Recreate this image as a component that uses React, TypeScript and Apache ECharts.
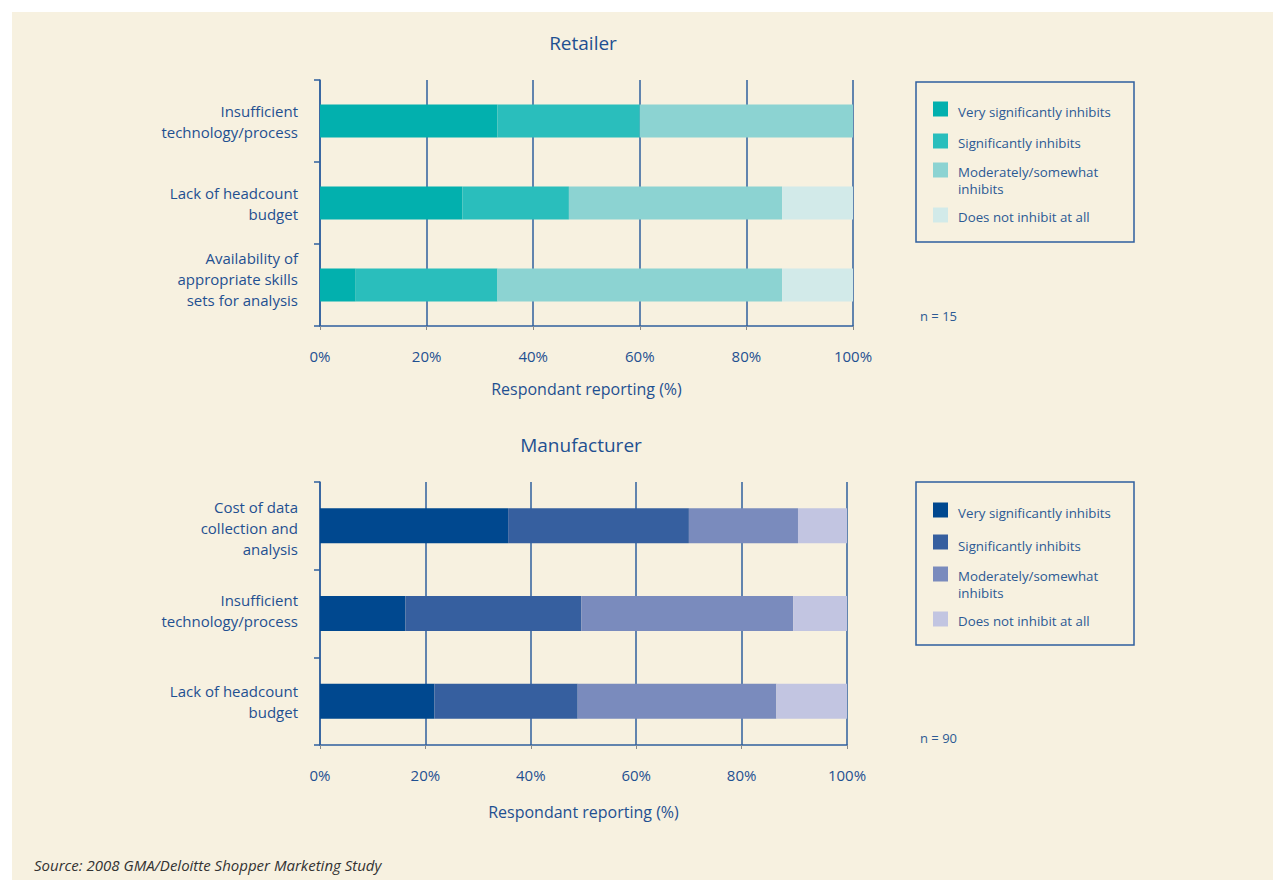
import React, { useEffect, useRef } from "react";
import * as echarts from "echarts";

const retailerCategories = [
  "Insufficient\ntechnology/process",
  "Lack of headcount\nbudget",
  "Availability of\nappropriate skills\nsets for analysis",
];
const retailerVery = [33.3, 26.7, 6.7];
const retailerSig = [26.7, 20.0, 26.6];
const retailerModerate = [40.0, 40.0, 53.4];
const retailerNot = [0, 13.3, 13.3];

const manufacturerCategories = [
  "Cost of data\ncollection and\nanalysis",
  "Insufficient\ntechnology/process",
  "Lack of headcount\nbudget",
];
const manufacturerVery = [35.7, 16.2, 21.7];
const manufacturerSig = [34.3, 33.4, 27.2];
const manufacturerModerate = [20.7, 40.2, 37.7];
const manufacturerNot = [9.3, 10.2, 13.4];

const legendNames = [
  "Very significantly inhibits",
  "Significantly inhibits",
  "Moderately/somewhat\ninhibits",
  "Does not inhibit at all",
];
const seriesNames = [
  "Very significantly inhibits",
  "Significantly inhibits",
  "Moderately/somewhat inhibits",
  "Does not inhibit at all",
];
const xTicks = [0, 20, 40, 60, 80, 100];

const retailerColors = ["#02B0AE", "#2ABEBC", "#8CD3D2", "#D2EAE9"];
const manufacturerColors = ["#00488F", "#365F9F", "#7A8BBD", "#C2C5E1"];

const FONT = "Open Sans";
const BLUE = "#1f5091";
const LINE = "#2f5f9e";

export default function App() {
  const ref = useRef<HTMLDivElement>(null);
  useEffect(() => {
    if (!ref.current) return;
    const chart = echarts.init(ref.current, null, { renderer: "svg" });

    const xAxisCommon = (gridIndex: number, nameGap: number) => ({
      type: "value" as const,
      gridIndex,
      min: xTicks[0],
      max: xTicks[xTicks.length - 1],
      interval: 20,
      axisLine: { show: true, lineStyle: { color: LINE, width: 1.5 } },
      axisTick: { show: true, length: 4, lineStyle: { color: "#8a8a8a", width: 1 } },
      axisLabel: {
        formatter: "{value}%",
        color: BLUE,
        fontFamily: FONT,
        fontSize: 15,
        margin: 22,
      },
      splitLine: { show: true, lineStyle: { color: LINE, width: 1.5 } },
      name: "Respondant reporting (%)",
      nameLocation: "middle" as const,
      nameGap,
      nameTextStyle: { color: BLUE, fontFamily: FONT, fontSize: 16 },
    });

    // per-label vertical nudge: positive = shift up (adds empty line at bottom), negative = shift down
    const yAxisCommon = (gridIndex: number, data: string[], nudges: number[]) => ({
      type: "category" as const,
      gridIndex,
      inverse: true,
      data,
      axisLine: { show: true, lineStyle: { color: LINE, width: 1.5 } },
      axisTick: { show: true, length: 6, lineStyle: { color: LINE, width: 1.5 } },
      axisLabel: {
        color: BLUE,
        fontFamily: FONT,
        fontSize: 15,
        lineHeight: 21,
        margin: 22,
        align: "right" as const,
        formatter: (v: string, idx: number) => {
          const n = nudges[idx] || 0;
          if (n > 0) return `${v}\n{g${idx}| }`;
          if (n < 0) return `{g${idx}| }\n${v}`;
          return v;
        },
        rich: Object.fromEntries(
          nudges.map((n, i) => [`g${i}`, { lineHeight: Math.abs(n) * 2, fontSize: 1, height: Math.abs(n) * 2 }])
        ),
      },
      splitLine: { show: false },
    });

    const retailerData = [retailerVery, retailerSig, retailerModerate, retailerNot];
    const manufacturerData = [manufacturerVery, manufacturerSig, manufacturerModerate, manufacturerNot];

    const series: any[] = [];
    retailerData.forEach((d, i) => {
      series.push({
        type: "bar",
        name: seriesNames[i],
        stack: "retailer",
        xAxisIndex: 0,
        yAxisIndex: 0,
        barWidth: "40%",
        data: d,
        itemStyle: { color: retailerColors[i] },
        silent: true,
      });
    });
    manufacturerData.forEach((d, i) => {
      series.push({
        type: "bar",
        name: seriesNames[i],
        stack: "manufacturer",
        xAxisIndex: 1,
        yAxisIndex: 1,
        barWidth: "40%",
        data: d,
        itemStyle: { color: manufacturerColors[i] },
        silent: true,
      });
    });

    const legendGraphic = (top: number, height: number, colors: string[], sq: number[], tx: number[]) => {
      const els: any[] = [
        {
          type: "rect",
          shape: { x: 916, y: top, width: 218, height },
          style: { fill: "none", stroke: LINE, lineWidth: 1.5 },
        },
      ];
      legendNames.forEach((n, i) => {
        els.push({
          type: "rect",
          shape: { x: 933, y: sq[i] - 7.5, width: 15, height: 15 },
          style: { fill: colors[i] },
        });
        els.push({
          type: "text",
          x: 958,
          y: tx[i],
          style: {
            text: n,
            fill: "#2c5a94",
            font: `13.3px "${FONT}"`,
            lineHeight: 17,
            verticalAlign: "top",
          },
        });
      });
      return els;
    };

    const option: any = {
      animation: false,
      backgroundColor: "#ffffff",
      title: [
        {
          text: "Retailer",
          left: 578,
          top: 28,
          textAlign: "center",
          textStyle: { color: BLUE, fontFamily: FONT, fontSize: 19, fontWeight: "normal" },
        },
        {
          text: "Manufacturer",
          left: 576,
          top: 430,
          textAlign: "center",
          textStyle: { color: BLUE, fontFamily: FONT, fontSize: 19, fontWeight: "normal" },
        },
      ],
      grid: [
        { left: 320, width: 533, top: 80, height: 246 },
        { left: 320, width: 527, top: 482, height: 263 },
      ],
      xAxis: [xAxisCommon(0, 55), xAxisCommon(1, 59)],
      yAxis: [
        yAxisCommon(0, retailerCategories, [0, 0, 6.5]),
        yAxisCommon(1, manufacturerCategories, [-2.5, 3.5, 0]),
      ],
      series,
      graphic: [
        {
          type: "rect",
          z: -10,
          shape: { x: 12, y: 12, width: 1261, height: 868 },
          style: { fill: "#F7F1E0" },
        },
        ...legendGraphic(82, 160, retailerColors, [109, 141, 170, 215], [103, 134, 163, 208]),
        ...legendGraphic(482, 163, manufacturerColors, [510, 542, 574, 619], [504, 537, 567, 612]),
        {
          type: "text",
          x: 920,
          y: 316,
          style: { text: "n = 15", fill: "#2c5a94", font: `13px "${FONT}"`, verticalAlign: "middle" },
        },
        {
          type: "text",
          x: 920,
          y: 738,
          style: { text: "n = 90", fill: "#2c5a94", font: `13px "${FONT}"`, verticalAlign: "middle" },
        },
        {
          type: "text",
          x: 34,
          y: 865,
          style: {
            text: "Source: 2008 GMA/Deloitte Shopper Marketing Study",
            fill: "#333333",
            font: `italic 15px "${FONT}"`,
            verticalAlign: "middle",
          },
        },
      ],
    };
    chart.setOption(option);
    return () => chart.dispose();
  }, []);

  return (
    <div
      ref={ref}
      style={{ position: "fixed", left: 0, top: 0, width: 1273, height: 880 }}
    />
  );
}
